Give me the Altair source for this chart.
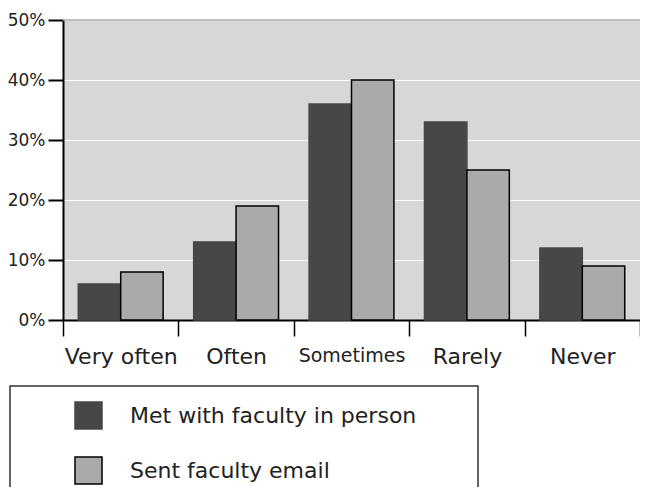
import altair as alt
import pandas as pd

categories = ["Very often", "Often", "Sometimes", "Rarely", "Never"]
series = ["Met with faculty in person", "Sent faculty email"]
met_in_person = [6, 13, 36, 33, 12]
sent_email = [8, 19, 40, 25, 9]
y_ticks = [0, 0.1, 0.2, 0.3, 0.4, 0.5]

rows = []
for c, a, b in zip(categories, met_in_person, sent_email):
    rows.append({"cat": c, "series": series[0], "value": a / 100})
    rows.append({"cat": c, "series": series[1], "value": b / 100})
df = pd.DataFrame(rows)

FONT = "DejaVu Sans"
DARK = "#474747"
LIGHT = "#aaaaaa"
TEXT = "#222222"

xaxis = alt.Axis(
    title=None, tickBand="extent", tickSize=16, tickColor="#000000", tickWidth=1.5,
    domainColor="#000000", domainWidth=2, labelFont=FONT,
    labelFontSize={"condition": {"test": "datum.value == 'Sometimes'", "value": 19}, "value": 22},
    labelColor=TEXT, labelPadding=10, labelAngle=0, grid=False,
)
yaxis = alt.Axis(
    title=None, values=y_ticks, format=".0%", tickSize=15, tickColor="#000000", tickWidth=2,
    domainColor="#000000", domainWidth=2, labelFont=FONT, labelFontSize=17,
    labelColor=TEXT, labelPadding=3, grid=True, gridColor="#ffffff", gridWidth=1.2,
)
legend = alt.Legend(
    orient="none", legendX=11, legendY=381, title=None, symbolType="square",
    symbolSize=729, symbolStrokeWidth=1.5, labelFont=FONT, labelFontSize=22,
    labelColor=TEXT, labelOffset=27, rowPadding=22, padding=0, symbolOpacity=1,
    labelLimit=500,
)

bars = alt.Chart(df).mark_bar(strokeWidth=1.5, opacity=1).encode(
    x=alt.X("cat:N", sort=categories, scale=alt.Scale(paddingInner=0, paddingOuter=0), axis=xaxis),
    xOffset=alt.XOffset("series:N", sort=series, scale=alt.Scale(paddingInner=0, paddingOuter=0.36)),
    y=alt.Y("value:Q", scale=alt.Scale(domain=[0, 0.5]), axis=yaxis),
    fill=alt.Fill("series:N", sort=series, scale=alt.Scale(domain=series, range=[DARK, LIGHT]), legend=legend),
    stroke=alt.Stroke("series:N", sort=series, scale=alt.Scale(domain=series, range=[DARK, "#000000"]), legend=legend),
)

top_rule = alt.Chart(pd.DataFrame({"v": [0.5]})).mark_rule(color="#aaaaaa", strokeWidth=1.5).encode(
    y=alt.Y("v:Q")
)

box = alt.Chart(pd.DataFrame({"a": [0]})).mark_rect(
    fill="#ffffff", fillOpacity=0, stroke="#333333", strokeWidth=1.5
).encode(
    x=alt.value(-53), x2=alt.value(415), y=alt.value(366), y2=alt.value(560)
)

chart = alt.layer(top_rule, box, bars).properties(
    width=577, height=300,
    autosize=alt.AutoSizeParams(type="none"),
    padding={"left": 55, "top": 12, "right": 0, "bottom": 167},
    background="#ffffff",
).configure_view(fill="#d7d7d7", strokeWidth=0)

chart.save("out.html", embed_options={"renderer": "svg", "actions": False})
